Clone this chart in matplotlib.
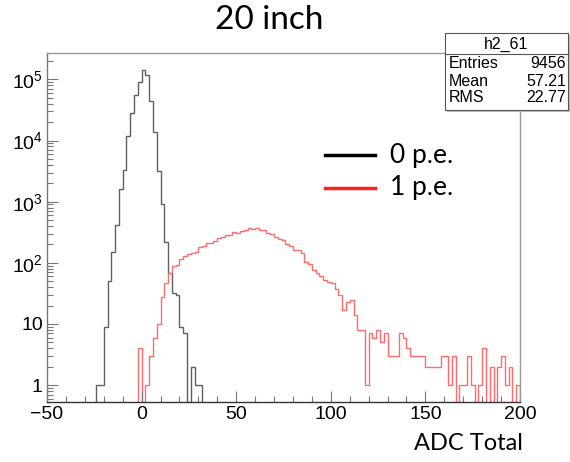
import matplotlib
matplotlib.use('Agg')
import matplotlib.pyplot as plt
from matplotlib.lines import Line2D
from matplotlib.patches import Rectangle
from matplotlib.ticker import FixedLocator, FuncFormatter, MultipleLocator
import numpy as np

plt.rcParams['font.family'] = ['Liberation Sans', 'DejaVu Sans']
plt.rcParams['mathtext.fontset'] = 'custom'
plt.rcParams['mathtext.rm'] = 'Liberation Sans'

# histogram data (bin width 2 ADC)
bin_w = 2
pe0_lo = -24
pe0_counts = [1, 1, 9, 50, 150, 420, 1600, 3300, 12000, 28000, 55000, 90000,
              140000, 120000, 45000, 14000, 3200, 900, 220, 68, 32, 30, 9, 7,
              0, 2, 1, 1]
pe1_lo = -2
pe1_counts = [4, 0, 1, 3, 6, 10, 28, 46, 68, 90, 92, 115, 130, 140, 145, 150,
              180, 185, 215, 210, 225, 255, 265, 290, 285, 320, 310, 335, 340,
              365, 360, 375, 350, 340, 310, 295, 265, 250, 235, 200, 190, 165,
              160, 145, 105, 95, 76, 67, 60, 52, 49, 46, 38, 30, 17, 23, 25,
              14, 8, 8, 1, 7, 6, 8, 5, 7, 3, 3, 3, 7, 6, 4, 3, 3, 3, 3, 2, 2,
              2, 2, 3, 3, 1, 3, 0, 1, 1, 3, 1, 0, 1, 4, 0, 2, 0, 2, 3, 1, 2,
              0, 1]

stats_name = 'h2_61'
stats_rows = [('Entries', '9456'), ('Mean', '57.21'), ('RMS', '22.77')]

fig = plt.figure(figsize=(5.70, 4.62), dpi=100)
ax = fig.add_axes([47/570, 1-402/462, 473/570, 349/462])

e0 = pe0_lo + bin_w*np.arange(len(pe0_counts)+1)
e1 = pe1_lo + bin_w*np.arange(len(pe1_counts)+1)
ax.stairs(pe0_counts, e0, color='#606060', lw=1.0)
ax.stairs(pe1_counts, e1, color='#ff6b6b', lw=1.0)

ax.set_yscale('log')
ax.set_xlim(-50, 200)
ax.set_ylim(0.53, 2.7e5)

for s in ax.spines.values():
    s.set_color('#999999')
    s.set_linewidth(1.0)
ax.spines['bottom'].set_color('#333333')
ax.spines['left'].set_color('#777777')

ax.xaxis.set_major_locator(MultipleLocator(50))
ax.xaxis.set_minor_locator(MultipleLocator(10))
ax.yaxis.set_major_locator(FixedLocator([1, 10, 100, 1e3, 1e4, 1e5]))
ax.yaxis.set_minor_locator(FixedLocator([m*10.0**k for k in range(-1, 6) for m in range(2, 10)]))

def ylab(v, pos):
    k = int(round(np.log10(v)))
    if k == 0:
        return '1'
    if k == 1:
        return '10'
    return r'$\mathregular{10^{%d}}$' % k

ax.yaxis.set_major_formatter(FuncFormatter(ylab))
ax.tick_params(axis='both', which='both', direction='in', labelsize=14,
               color='#777777', top=False, right=False)
ax.tick_params(axis='both', which='major', length=8, width=0.8)
ax.tick_params(axis='both', which='minor', length=4, width=0.8)
ax.tick_params(axis='x', pad=3)
ax.tick_params(axis='y', pad=3)

# title and axis text
fig.text(269/570, 1-20/462, '20 inch', fontsize=24, family=['Lato', 'DejaVu Sans'],
         ha='center', va='center')
fig.text(468/570, 1-443/462, 'ADC Total', fontsize=17, family=['Lato', 'DejaVu Sans'],
         ha='center', va='center')

# legend
fig.add_artist(Line2D([325/570, 375/570], [1-155/462, 1-155/462], color='black', lw=2.5))
fig.add_artist(Line2D([325/570, 375/570], [1-188/462, 1-188/462], color='#ff2020', lw=2.5))
fig.text(390/570, 1-155/462, '0 p.e.', fontsize=19, family=['Lato', 'DejaVu Sans'], va='center')
fig.text(390/570, 1-188/462, '1 p.e.', fontsize=19, family=['Lato', 'DejaVu Sans'], va='center')

# stats box
bx0, bx1, by0, by1 = 445/570, 568/570, 1-110/462, 1-33/462
fig.add_artist(Rectangle((bx0+2/570, by0-2/462), bx1-bx0, by1-by0, transform=fig.transFigure,
                         facecolor='#bbbbbb', edgecolor='none'))
fig.add_artist(Rectangle((bx0, by0), bx1-bx0, by1-by0, transform=fig.transFigure,
                         facecolor='white', edgecolor='#555555', lw=0.8))
fig.add_artist(Line2D([bx0, bx1], [1-54/462, 1-54/462], color='#555555', lw=0.8))
fig.text((bx0+bx1)/2, 1-44/462, stats_name, fontsize=11.5, ha='center', va='center')
for i, (k, v) in enumerate(stats_rows):
    yy = 1-(64+17*i)/462
    fig.text(449/570, yy, k, fontsize=11.5, ha='left', va='center')
    fig.text(566/570, yy, v, fontsize=11.5, ha='right', va='center')

fig.savefig('out.png', dpi=100)
